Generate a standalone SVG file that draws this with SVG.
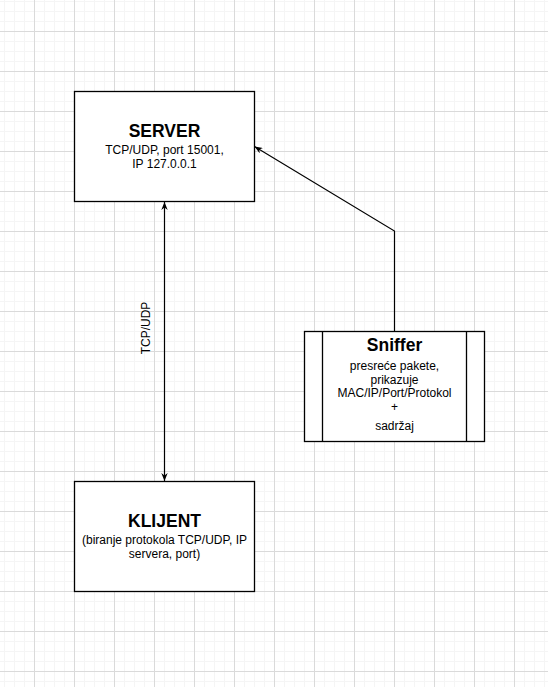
<svg xmlns="http://www.w3.org/2000/svg" width="548" height="687" viewBox="0 0 548 687">
  <defs>
    <pattern id="minor" x="4" y="1" width="10" height="10" patternUnits="userSpaceOnUse">
      <path d="M0.5,0 V10 M0,0.5 H10" stroke="#f5f5f5" stroke-width="1" fill="none"/>
    </pattern>
    <pattern id="major" x="34" y="31" width="40" height="40" patternUnits="userSpaceOnUse">
      <path d="M0.5,0 V40 M0,0.5 H40" stroke="#dadada" stroke-width="1" fill="none"/>
    </pattern>
    <marker id="arrow" viewBox="0 0 10 8" refX="10" refY="4" markerWidth="8" markerHeight="6.5" markerUnits="userSpaceOnUse" orient="auto-start-reverse">
      <path d="M0,0 L10,4 L0,8 L3,4 Z" fill="#000"/>
    </marker>
    <style>
      .box { fill: #fff; stroke: #000; stroke-width: 1.3; }
      .line { fill: none; stroke: #000; stroke-width: 1.2; }
      .title { font-family: "Liberation Sans", Arial, sans-serif; font-weight: bold; font-size: 17.5px; text-anchor: middle; fill: #000; }
      .txt { font-family: "Liberation Sans", Arial, sans-serif; font-size: 12px; text-anchor: middle; fill: #000; }
    </style>
  </defs>
  <rect width="548" height="687" fill="#fff"/>
  <rect width="548" height="687" fill="url(#minor)"/>
  <rect width="548" height="687" fill="url(#major)"/>

  <g id="connectors">
    <path class="line" d="M164.5,202 V481" marker-start="url(#arrow)" marker-end="url(#arrow)"/>
    <path class="line" d="M394.5,331.5 V231 L254.5,146.5" marker-end="url(#arrow)"/>
    <text class="txt" transform="translate(150,328) rotate(-90)">TCP/UDP</text>
  </g>

  <g id="server">
    <rect class="box" x="74.5" y="91.5" width="180" height="110"/>
    <text class="title" x="164.5" y="137">SERVER</text>
    <text class="txt" x="164.5" y="154">TCP/UDP, port 15001,</text>
    <text class="txt" x="164.5" y="167.5">IP 127.0.0.1</text>
  </g>

  <g id="sniffer">
    <rect class="box" x="304.5" y="331.5" width="180" height="110"/>
    <path class="line" d="M322.5,331.5 V441.5 M466.5,331.5 V441.5" style="stroke-width:1.3"/>
    <text class="title" x="394.5" y="351">Sniffer</text>
    <text class="txt" x="394.5" y="370">presreće pakete,</text>
    <text class="txt" x="394.5" y="383.5">prikazuje</text>
    <text class="txt" x="394.5" y="397">MAC/IP/Port/Protokol</text>
    <text class="txt" x="394.5" y="410.5">+</text>
    <text class="txt" x="394.5" y="429.5">sadržaj</text>
  </g>

  <g id="klijent">
    <rect class="box" x="74.5" y="481.5" width="180" height="110"/>
    <text class="title" x="164.5" y="527">KLIJENT</text>
    <text class="txt" x="164.5" y="544">(biranje protokola TCP/UDP, IP</text>
    <text class="txt" x="164.5" y="557.5">servera, port)</text>
  </g>
</svg>
